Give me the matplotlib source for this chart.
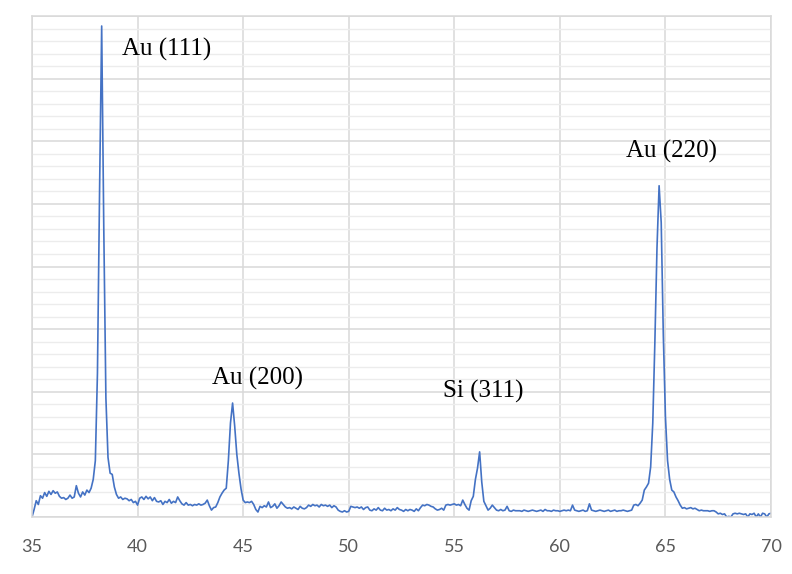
#!/usr/bin/env python3
"""XRD pattern of Au film on Si: intensity vs 2-theta with peak labels."""

import numpy as np
import matplotlib.pyplot as plt
from matplotlib.ticker import MultipleLocator

# 2-theta sampled every 0.1 deg from 35 to 70
theta_start, theta_step = 35.0, 0.1

# intensity (a.u.), one row per degree (x.0 ... x.9)
intensity = [
    0, 120, 260, 200, 340, 300, 390, 330, 410, 360,            # 35
    420, 380, 400, 330, 300, 310, 280, 300, 350, 300,          # 36
    320, 500, 380, 320, 400, 350, 430, 390, 460, 600,          # 37
    900, 2300, 5200, 7840, 4600, 1900, 950, 700, 680, 480,     # 38
    360, 300, 320, 280, 300, 290, 260, 280, 230, 250,          # 39
    190, 300, 320, 280, 330, 290, 320, 260, 310, 250,          # 40
    240, 260, 200, 250, 230, 280, 220, 250, 230, 320,          # 41
    260, 210, 190, 230, 190, 200, 180, 200, 190, 210,          # 42
    190, 200, 220, 270, 180, 110, 150, 160, 230, 320,          # 43
    380, 430, 460, 900, 1500, 1820, 1450, 1000, 700, 450,      # 44
    270, 230, 240, 230, 250, 200, 120, 80, 170, 150,           # 45
    180, 160, 240, 150, 170, 210, 140, 180, 240, 200,          # 46
    160, 140, 150, 130, 160, 140, 120, 170, 140, 130,          # 47
    150, 190, 170, 200, 180, 190, 160, 200, 180, 190,          # 48
    170, 190, 150, 180, 160, 110, 90, 80, 100, 80,             # 49
    90, 170, 160, 150, 160, 140, 160, 120, 150, 160,           # 50
    110, 100, 130, 110, 150, 110, 100, 140, 110, 120,          # 51
    100, 130, 110, 150, 120, 110, 90, 120, 100, 120,           # 52
    110, 90, 130, 100, 150, 190, 180, 200, 190, 170,           # 53
    160, 130, 110, 120, 140, 110, 190, 200, 190, 200,          # 54
    210, 190, 200, 180, 270, 200, 140, 110, 260, 330,          # 55
    600, 780, 1040, 560, 250, 180, 110, 140, 190, 150,         # 56
    110, 100, 120, 100, 110, 170, 100, 90, 110, 100,           # 57
    100, 100, 90, 110, 100, 90, 100, 110, 100, 90,             # 58
    100, 110, 90, 120, 100, 100, 90, 110, 100, 100,            # 59
    90, 100, 110, 100, 110, 100, 190, 110, 100, 90,            # 60
    100, 110, 90, 100, 210, 110, 100, 90, 100, 110,            # 61
    100, 90, 100, 110, 90, 100, 110, 90, 100, 100,             # 62
    110, 100, 90, 100, 110, 190, 200, 180, 220, 270,           # 63
    430, 480, 540, 800, 1500, 2800, 4300, 5290, 4700, 2900,    # 64
    1600, 900, 600, 430, 400, 320, 260, 190, 140, 150,         # 65
    130, 140, 150, 130, 140, 120, 100, 110, 100, 100,          # 66
    100, 90, 100, 100, 80, 50, 60, 40, 50, 0,                  # 67
    10, 0, 50, 60, 50, 60, 50, 40, 50, 0,                      # 68
    50, 40, 60, 0, 50, 0, 60, 50, 0, 50,                       # 69
    60,                                                        # 70
]
two_theta = theta_start + theta_step * np.arange(len(intensity))

peak_labels = ["Au (111)", "Au (200)", "Si (311)", "Au (220)"]
label_x = [39.26, 43.53, 54.47, 63.14]
label_y = [7460, 2220, 2000, 5830]

fig = plt.figure(figsize=(7.92, 5.74), dpi=100)
ax = fig.add_axes([0.0404, 0.0993, 0.9331, 0.8728])

ax.plot(two_theta, intensity, color='#4472C4', lw=1.2)

for txt, x, y in zip(peak_labels, label_x, label_y):
    ax.text(x, y, txt, family='Liberation Serif', fontsize=18,
            ha='left', va='center', color='black')

ax.set_xlim(35, 70)
ax.set_ylim(0, 8000)
ax.xaxis.set_major_locator(MultipleLocator(5))
ax.yaxis.set_major_locator(MultipleLocator(1000))
ax.yaxis.set_minor_locator(MultipleLocator(200))
ax.grid(which='major', color='#d9d9d9', lw=1.1)
ax.grid(which='minor', axis='y', color='#ececec', lw=1.0)
ax.set_axisbelow(True)
ax.tick_params(axis='both', which='both', length=0)
ax.tick_params(axis='x', pad=16, labelsize=13, labelcolor='#595959')
for lab in ax.get_xticklabels():
    lab.set_family('Lato')
ax.set_yticklabels([])
for sp in ax.spines.values():
    sp.set_color('#d9d9d9')
    sp.set_linewidth(1.1)

plt.savefig("out.png", dpi=100)
plt.close()
print("Saved out.png")
